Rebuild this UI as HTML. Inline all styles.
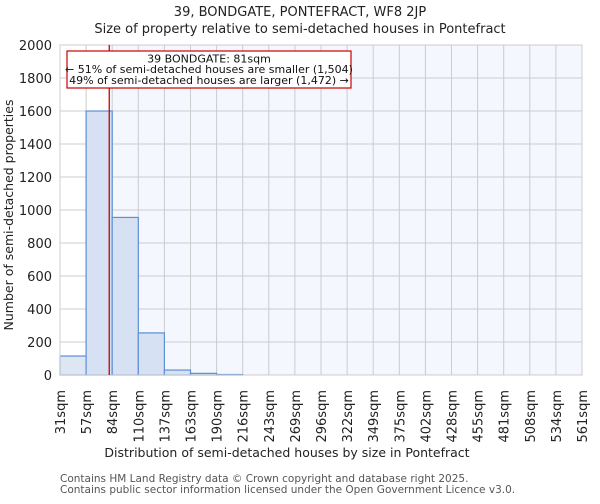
<!DOCTYPE html>
<html><head><meta charset="utf-8"><style>
body{margin:0;background:#fff;font-family:"DejaVu Sans","Liberation Sans",sans-serif}
</style></head><body>
<svg id="c" width="600" height="500" xmlns="http://www.w3.org/2000/svg" font-family="DejaVu Sans, Liberation Sans, sans-serif">
<text x="300" y="16" text-anchor="middle" font-size="13" fill="#222">39, BONDGATE, PONTEFRACT, WF8 2JP</text>
<text x="300" y="33" text-anchor="middle" font-size="13" fill="#222">Size of property relative to semi-detached houses in Pontefract</text>
<g id="plot"></g>
<text x="287" y="457" text-anchor="middle" font-size="12.5" fill="#222">Distribution of semi-detached houses by size in Pontefract</text>
<text transform="translate(13,215) rotate(-90)" text-anchor="middle" font-size="12.5" fill="#222">Number of semi-detached properties</text>
<text x="60" y="482" font-size="10.5" fill="#555">Contains HM Land Registry data © Crown copyright and database right 2025.</text>
<text x="60" y="493" font-size="10.5" fill="#555">Contains public sector information licensed under the Open Government Licence v3.0.</text>
</svg>
<script>
const binLabels=["31sqm","57sqm","84sqm","110sqm","137sqm","163sqm","190sqm","216sqm","243sqm","269sqm","296sqm","322sqm","349sqm","375sqm","402sqm","428sqm","455sqm","481sqm","508sqm","534sqm","561sqm"];
const binStarts=[31,57,84,110,137,163,190,216,243,269,296,322,349,375,402,428,455,481,508,534];
const counts=[115,1600,955,255,30,10,3,0,0,0,0,0,0,0,0,0,0,0,0,0];
const yTicks=[0,200,400,600,800,1000,1200,1400,1600,1800,2000];
const propertySize=81;
const NS="http://www.w3.org/2000/svg";
const g=document.getElementById('plot');
const X0=60,X1=582,Y0=375,Y1=45,xmin=31,xmax=561,ymax=2000;
const nb=binStarts.length,bw=(X1-X0)/nb;
const xs=v=>X0+(v-xmin)/(xmax-xmin)*(X1-X0);
const ys=v=>Y0-v/ymax*(Y0-Y1);
const xi=i=>X0+i*bw;
function el(t,a,p){const e=document.createElementNS(NS,t);for(const k in a)e.setAttribute(k,a[k]);(p||g).appendChild(e);return e;}
const px=xs(propertySize);
let r=el('rect',{x:X0,y:Y1,width:px-X0,height:Y0-Y1,fill:'#ffffff'});


r=el('rect',{x:px,y:Y1,width:X1-px,height:Y0-Y1,fill:'#f4f7fe'});


yTicks.forEach(v=>{
 let l=el('line',{x1:X0,x2:X1,y1:ys(v),y2:ys(v),stroke:'#cccccc','stroke-width':1});
 
 
 let t=el('text',{x:X0-8,y:ys(v)+5,'text-anchor':'end','font-size':13,fill:'#222'});
 t.textContent=v;
 
 
});
binLabels.forEach((s,i)=>{
 let l=el('line',{x1:xi(i),x2:xi(i),y1:Y1,y2:Y0,stroke:'#cccccc','stroke-width':1});
 
 
 let t=el('text',{transform:`translate(${xi(i)+5},${Y0+15}) rotate(-90)`,'text-anchor':'end','font-size':13,fill:'#222'});
 t.textContent=s;
 
 
});
counts.forEach((c,i)=>{
 if(c<=0)return;
 let b=el('rect',{x:xi(i),y:ys(c),width:bw,height:Y0-ys(c),fill:xi(i+1)<=px+1?'#dde6f3':'#d6e2f3',stroke:'#5b8fd6','stroke-width':1.2});
 
 
});
let ax=el('rect',{x:X0,y:Y1,width:X1-X0,height:Y0-Y1,fill:'none',stroke:'#cccccc'});


let ml=el('line',{x1:px,x2:px,y1:Y1,y2:Y0,stroke:'#cc0000','stroke-width':1.3});


let bx=el('rect',{x:67,y:51,width:284,height:37,fill:'#fff',stroke:'#cc0000','stroke-width':1.2});


["39 BONDGATE: 81sqm","← 51% of semi-detached houses are smaller (1,504)","49% of semi-detached houses are larger (1,472) →"].forEach((s,i)=>{
 let t=el('text',{x:209,y:62.5+i*10.7,'text-anchor':'middle','font-size':11,fill:'#111'});
 t.textContent=s;
 
 
});
</script>
</body></html>
